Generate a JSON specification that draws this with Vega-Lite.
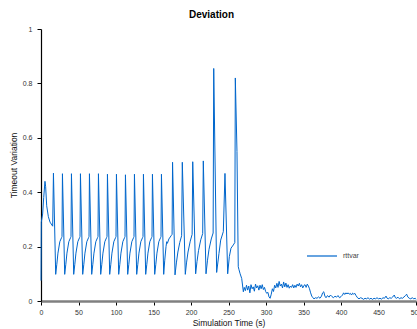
{
  "$schema": "https://vega.github.io/schema/vega-lite/v6.json",
  "autosize": "none",
  "padding": {"left": 41, "top": 29, "right": 1, "bottom": 28},
  "width": 375,
  "height": 272,
  "background": "white",
  "title": {"text": "Deviation", "fontSize": 10, "fontWeight": "bold", "font": "Liberation Sans", "color": "black", "frame": "group", "anchor": "middle", "dx": -17, "offset": 5},
  "data": {"values": [
    {"t":0,"v":0.075},{"t":0.4,"v":0.29},{"t":2.2,"v":0.32},{"t":3.6,"v":0.38},{"t":5.3,"v":0.44},{"t":6.2,"v":0.42},{"t":7.6,"v":0.35},{"t":9.8,"v":0.31},{"t":12,"v":0.29},{"t":15.6,"v":0.275},
    {"t":16.6,"v":0.47},{"t":19.6,"v":0.098},{"t":21.1,"v":0.135},{"t":22.6,"v":0.176},{"t":25.1,"v":0.218},{"t":27.6,"v":0.234},{"t":28.0,"v":0.237},
    {"t":28.6,"v":0.468},{"t":31.6,"v":0.098},{"t":33.1,"v":0.135},{"t":34.6,"v":0.176},{"t":37.1,"v":0.218},{"t":39.6,"v":0.234},{"t":40.0,"v":0.237},
    {"t":40.6,"v":0.468},{"t":43.6,"v":0.098},{"t":45.1,"v":0.135},{"t":46.6,"v":0.176},{"t":49.1,"v":0.218},{"t":51.6,"v":0.234},{"t":52.0,"v":0.237},
    {"t":52.6,"v":0.468},{"t":55.6,"v":0.098},{"t":57.1,"v":0.135},{"t":58.6,"v":0.176},{"t":61.1,"v":0.218},{"t":63.6,"v":0.234},{"t":64.0,"v":0.237},
    {"t":64.6,"v":0.468},{"t":67.6,"v":0.098},{"t":69.1,"v":0.135},{"t":70.6,"v":0.176},{"t":73.1,"v":0.218},{"t":75.6,"v":0.234},{"t":76.0,"v":0.237},
    {"t":76.6,"v":0.468},{"t":79.6,"v":0.098},{"t":81.1,"v":0.135},{"t":82.6,"v":0.176},{"t":85.1,"v":0.218},{"t":87.6,"v":0.234},{"t":88.0,"v":0.237},
    {"t":88.6,"v":0.466},{"t":91.6,"v":0.098},{"t":93.1,"v":0.135},{"t":94.6,"v":0.176},{"t":97.1,"v":0.218},{"t":99.6,"v":0.234},{"t":100.0,"v":0.237},
    {"t":100.6,"v":0.466},{"t":103.6,"v":0.098},{"t":105.1,"v":0.135},{"t":106.6,"v":0.176},{"t":109.1,"v":0.218},{"t":111.6,"v":0.234},{"t":112.0,"v":0.237},
    {"t":112.6,"v":0.464},{"t":115.6,"v":0.098},{"t":117.1,"v":0.135},{"t":118.6,"v":0.176},{"t":121.1,"v":0.218},{"t":123.6,"v":0.234},{"t":124.0,"v":0.237},
    {"t":124.6,"v":0.466},{"t":127.6,"v":0.098},{"t":129.1,"v":0.135},{"t":130.6,"v":0.176},{"t":133.1,"v":0.218},{"t":135.6,"v":0.234},{"t":136.0,"v":0.237},
    {"t":136.6,"v":0.466},{"t":139.6,"v":0.098},{"t":141.1,"v":0.135},{"t":142.6,"v":0.176},{"t":145.1,"v":0.218},{"t":147.6,"v":0.234},{"t":148.0,"v":0.237},
    {"t":148.6,"v":0.466},{"t":151.6,"v":0.098},{"t":153.1,"v":0.135},{"t":154.6,"v":0.176},{"t":157.1,"v":0.218},{"t":159.6,"v":0.234},{"t":160.0,"v":0.237},
    {"t":160.6,"v":0.466},{"t":163.6,"v":0.098},{"t":165,"v":0.15},{"t":166.7,"v":0.2},{"t":167.6,"v":0.218},{"t":168.5,"v":0.212},{"t":170.5,"v":0.228},{"t":173.5,"v":0.24},{"t":174.8,"v":0.245},
    {"t":175.4,"v":0.51},{"t":178.7,"v":0.096},{"t":180.5,"v":0.14},{"t":182.5,"v":0.18},{"t":185,"v":0.215},{"t":187.5,"v":0.24},
    {"t":188.4,"v":0.51},{"t":192.4,"v":0.098},{"t":194,"v":0.14},{"t":196,"v":0.18},{"t":199,"v":0.22},{"t":201.5,"v":0.245},
    {"t":202.3,"v":0.512},{"t":206.2,"v":0.1},{"t":208,"v":0.145},{"t":210,"v":0.185},{"t":213,"v":0.225},{"t":215.6,"v":0.248},
    {"t":216.4,"v":0.515},{"t":220,"v":0.1},{"t":222,"v":0.15},{"t":224,"v":0.19},{"t":227,"v":0.228},{"t":229.5,"v":0.25},
    {"t":230.3,"v":0.855},{"t":234.2,"v":0.105},{"t":237.3,"v":0.175},{"t":239.6,"v":0.224},{"t":243.1,"v":0.255},
    {"t":245.3,"v":0.469},{"t":248.9,"v":0.1},{"t":251.1,"v":0.163},{"t":253.3,"v":0.194},{"t":256.4,"v":0.206},{"t":258.4,"v":0.215},
    {"t":259.1,"v":0.82},{"t":261.3,"v":0.55},{"t":263,"v":0.126},{"t":264,"v":0.115},{"t":265.5,"v":0.1},{"t":267.6,"v":0.083},{"t":269.8,"v":0.034},
    {"t":271,"v":0.05},{"t":272.5,"v":0.038},{"t":274,"v":0.058},{"t":275.5,"v":0.04},{"t":277,"v":0.055},{"t":278.5,"v":0.03},{"t":280,"v":0.06},{"t":281.5,"v":0.045},{"t":283,"v":0.052},{"t":284.5,"v":0.036},{"t":286,"v":0.062},{"t":287.5,"v":0.048},{"t":289,"v":0.056},{"t":290.5,"v":0.04},{"t":292,"v":0.058},{"t":293.5,"v":0.045},{"t":295,"v":0.06},{"t":296.5,"v":0.042},{"t":298,"v":0.05},{"t":299.5,"v":0.035},
    {"t":301,"v":0.028},{"t":302.5,"v":0.032},{"t":304,"v":0.015},{"t":305.5,"v":0.01},{"t":307,"v":0.025},{"t":308.5,"v":0.045},{"t":310,"v":0.035},{"t":311.5,"v":0.058},{"t":313,"v":0.048},{"t":314.5,"v":0.065},{"t":316,"v":0.05},{"t":317.5,"v":0.072},{"t":319,"v":0.055},{"t":320.5,"v":0.062},{"t":322,"v":0.048},{"t":323.5,"v":0.07},{"t":325,"v":0.052},{"t":326.5,"v":0.066},{"t":328,"v":0.05},{"t":329.5,"v":0.06},
    {"t":331,"v":0.047},{"t":332.5,"v":0.055},{"t":334,"v":0.05},{"t":335.5,"v":0.06},{"t":337,"v":0.048},{"t":338.5,"v":0.058},{"t":340,"v":0.05},{"t":341.5,"v":0.062},{"t":343,"v":0.055},{"t":344.5,"v":0.065},{"t":346,"v":0.052},{"t":347.5,"v":0.06},{"t":349,"v":0.048},{"t":350.5,"v":0.057},{"t":352,"v":0.06},{"t":353.5,"v":0.05},{"t":355,"v":0.062},{"t":356.5,"v":0.055},{"t":358,"v":0.045},{"t":359.5,"v":0.03},
    {"t":361,"v":0.018},{"t":362.5,"v":0.012},{"t":364,"v":0.008},{"t":366,"v":0.012},{"t":368,"v":0.01},{"t":370,"v":0.015},{"t":372,"v":0.01},{"t":374,"v":0.018},{"t":375.5,"v":0.03},{"t":377,"v":0.034},{"t":378.5,"v":0.018},{"t":380,"v":0.012},{"t":382,"v":0.02},{"t":384,"v":0.014},{"t":386,"v":0.022},{"t":388,"v":0.016},{"t":390,"v":0.012},{"t":392,"v":0.018},{"t":394,"v":0.014},{"t":396,"v":0.02},{"t":398,"v":0.012},{"t":400,"v":0.016},
    {"t":402,"v":0.022},{"t":403.5,"v":0.03},{"t":405,"v":0.024},{"t":406.5,"v":0.03},{"t":408,"v":0.026},{"t":409.5,"v":0.03},{"t":411,"v":0.025},{"t":412.5,"v":0.028},{"t":414,"v":0.022},{"t":415.5,"v":0.029},{"t":417,"v":0.025},{"t":418.5,"v":0.028},{"t":420,"v":0.02},{"t":422,"v":0.012},{"t":424,"v":0.008},{"t":426,"v":0.012},{"t":428,"v":0.01},{"t":430,"v":0.006},
    {"t":432,"v":0.01},{"t":434,"v":0.008},{"t":436,"v":0.012},{"t":438,"v":0.007},{"t":440,"v":0.01},{"t":442,"v":0.006},{"t":444,"v":0.01},{"t":446,"v":0.008},{"t":448,"v":0.012},{"t":450,"v":0.008},{"t":452,"v":0.01},{"t":454,"v":0.007},{"t":456,"v":0.012},{"t":458,"v":0.01},{"t":460,"v":0.018},{"t":461.5,"v":0.01},{"t":463,"v":0.008},{"t":465,"v":0.012},
    {"t":467,"v":0.01},{"t":469,"v":0.015},{"t":471,"v":0.022},{"t":472.5,"v":0.012},{"t":474,"v":0.01},{"t":476,"v":0.014},{"t":478,"v":0.008},{"t":480,"v":0.012},{"t":482,"v":0.01},{"t":484,"v":0.015},{"t":486,"v":0.02},{"t":487.5,"v":0.025},{"t":489,"v":0.015},{"t":491,"v":0.01},{"t":493,"v":0.008},{"t":495,"v":0.012},{"t":497,"v":0.008},{"t":499,"v":0.01},{"t":500,"v":0.006}
  ]},
  "mark": {"type": "line", "strokeWidth": 1, "interpolate": "linear"},
  "encoding": {
    "x": {"field": "t", "type": "quantitative", "scale": {"domain": [0, 500], "nice": false},
      "axis": {"title": "Simulation Time (s)", "values": [0,50,100,150,200,250,300,350,400,450,500], "grid": false, "domainColor": "#808080", "domainWidth": 2.5, "tickColor": "black", "tickSize": 4, "labelPadding": 3, "titlePadding": 3, "labelFlush": false}},
    "y": {"field": "v", "type": "quantitative", "scale": {"domain": [0, 1], "nice": false},
      "axis": {"title": "Timeout Variation", "values": [0,0.2,0.4,0.6,0.8,1], "format": ".1~f", "grid": false, "domainColor": "black", "domainWidth": 1.2, "tickColor": "black", "tickSize": 4, "labelPadding": 5, "titlePadding": 4}},
    "color": {"datum": "rttvar", "type": "nominal", "scale": {"range": ["#0066cc"]},
      "legend": {"title": null, "orient": "none", "legendX": 265, "legendY": 211, "symbolType": "stroke", "symbolSize": 900, "symbolStrokeWidth": 1.2, "labelFontSize": 7, "labelColor": "#444", "labelOffset": 5, "labelFont": "Liberation Sans"}}
  },
  "config": {
    "view": {"stroke": null},
    "axis": {"labelFont": "Liberation Sans", "titleFont": "Liberation Sans", "labelFontSize": 7, "titleFontSize": 8.5, "titleFontWeight": "normal", "labelColor": "#333", "titleColor": "#111"}
  }
}
